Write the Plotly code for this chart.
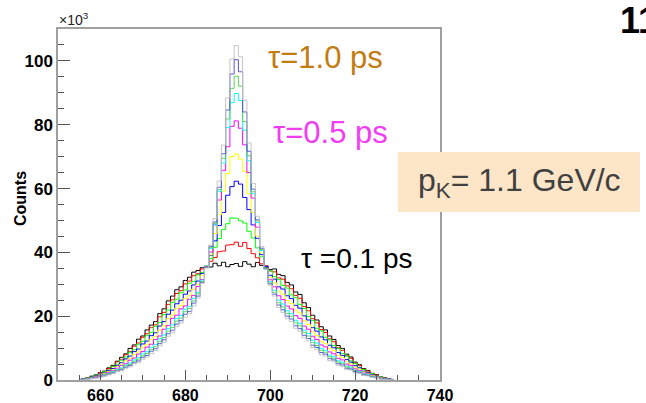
import plotly.graph_objects as go

# bin centres (MeV) and counts per bin in units of 10^3, one list per lifetime
mass = list(range(655, 730))

tau_labels = ["0.1 ps", "0.2 ps", "0.3 ps", "0.4 ps", "0.5 ps",
              "0.6 ps", "0.7 ps", "0.8 ps", "0.9 ps", "1.0 ps"]

counts_t01 = [0.1, 0.4, 0.7, 1.2, 1.6, 2.3, 2.8, 3.8, 4.6, 5.9, 7.1, 8.2, 9.9, 11, 12.8, 13.8, 15.7, 17.2, 18.3,
              20.8, 22.3, 24.8, 26.3, 28.3, 29.2, 31.2, 32.2, 33.8, 34.3, 35.2, 35.6, 35.4, 36.6, 35.8, 36.9, 35.5,
              36.2, 36.5, 35.6, 37.1, 36.3, 35.5, 36.8, 35.9, 35.2, 34.6, 34.8, 33.1, 32.7, 30.6, 29.8, 27.6, 26.8,
              24.2, 22.7, 20.3, 18.8, 16.7, 15.7, 13.8, 12.7, 10.8, 9.9, 8.1, 7.2, 5.6, 4.8, 3.6, 3.0, 2.1, 1.7, 1.0,
              0.7, 0.3, 0.1]
counts_t02 = [0.1, 0.4, 0.6, 1.1, 1.4, 2.2, 2.6, 3.6, 4.3, 5.7, 6.5, 7.9, 8.9, 10.6, 11.6, 13.4, 14.5, 16.4, 17.3,
              19.8, 21.2, 23.7, 25.1, 27.1, 28.0, 30.1, 31.0, 32.7, 33.3, 34.8, 35.3, 37.2, 38.4, 40.2, 40.4, 42.3,
              42.4, 43.2, 41.9, 43.1, 41.2, 39.6, 38.3, 36.4, 35.8, 34.2, 33.9, 32.0, 31.6, 29.5, 28.6, 26.5, 25.6,
              23.0, 21.7, 19.2, 17.9, 15.8, 14.9, 12.9, 12.0, 10.1, 9.3, 7.6, 6.8, 5.3, 4.6, 3.4, 2.8, 2.0, 1.6, 0.9,
              0.6, 0.3, 0.1]
counts_t03 = [0.1, 0.3, 0.6, 1.0, 1.5, 1.8, 2.6, 3.1, 4.2, 5.0, 6.2, 7.2, 8.7, 9.5, 11.2, 12.1, 13.9, 14.9, 16.8,
              18.0, 20.5, 21.9, 24.3, 25.3, 27.3, 28.2, 30.3, 30.9, 33.0, 33.7, 35.7, 38.0, 41.6, 44.3, 47.2, 49.0,
              50.8, 50.7, 49.9, 49.2, 46.6, 44.5, 41.4, 38.6, 35.1, 34.2, 32.4, 31.5, 29.7, 28.8, 26.7, 25.8, 23.7,
              22.4, 19.9, 18.6, 16.2, 15.4, 13.4, 12.6, 10.8, 9.9, 8.3, 7.5, 6.0, 5.2, 4.0, 3.3, 2.4, 2.0, 1.3, 1.0,
              0.5, 0.3, 0.1]
counts_t04 = [0.1, 0.3, 0.5, 0.9, 1.2, 1.8, 2.2, 3.0, 3.6, 4.6, 5.4, 6.6, 7.5, 8.9, 9.7, 11.3, 12.2, 13.9, 14.8,
              16.9, 18.3, 20.6, 21.9, 23.9, 25.0, 26.9, 27.9, 29.8, 31.0, 33.4, 35.6, 39.0, 43.6, 48.4, 52.5, 57.9,
              60.6, 62.3, 61.4, 57.2, 53.4, 48.6, 44.4, 39.3, 35.6, 32.8, 31.6, 29.2, 28.5, 26.4, 25.5, 23.4, 22.5,
              20.1, 18.8, 16.4, 15.3, 13.5, 12.6, 10.9, 10.1, 8.6, 7.7, 6.4, 5.6, 4.5, 3.8, 2.8, 2.3, 1.6, 1.3, 0.8,
              0.5, 0.3, 0.1]
counts_t05 = [0.1, 0.2, 0.5, 0.8, 1.1, 1.6, 2.0, 2.7, 3.2, 4.2, 4.9, 6.0, 6.8, 8.0, 8.8, 10.3, 11.1, 12.7, 13.6,
              15.6, 17.0, 19.2, 20.4, 22.5, 23.4, 25.5, 26.4, 28.5, 29.9, 32.8, 35.4, 39.2, 45.9, 51.8, 59.2, 64.7,
              70.0, 70.8, 69.2, 65.4, 58.4, 52.5, 45.1, 39.8, 35.0, 32.2, 30.5, 27.9, 26.9, 24.9, 24.0, 21.9, 21.0,
              18.6, 17.4, 15.1, 14.0, 12.2, 11.5, 9.9, 9.2, 7.7, 7.0, 5.7, 5.1, 4.0, 3.4, 2.5, 2.1, 1.4, 1.2, 0.7,
              0.5, 0.2, 0.1]
counts_t06 = [0.0, 0.2, 0.4, 0.7, 1.0, 1.4, 1.8, 2.4, 2.9, 3.7, 4.5, 5.1, 6.2, 6.9, 8.1, 8.9, 10.3, 11.2, 12.7,
              13.8, 15.9, 17.1, 19.3, 20.3, 22.3, 23.2, 25.3, 26.5, 29.3, 31.5, 35.4, 40.1, 48.6, 56.4, 65.7, 73.1,
              79.5, 81.2, 78.9, 73.7, 65.0, 57.0, 47.9, 40.8, 34.9, 31.4, 29.2, 26.4, 25.2, 23.2, 22.3, 20.2, 19.3,
              16.9, 15.9, 13.7, 12.7, 11.0, 10.4, 8.8, 8.2, 6.8, 6.3, 5.0, 4.5, 3.5, 3.0, 2.2, 1.9, 1.2, 1.0, 0.6,
              0.4, 0.2, 0.0]
counts_t07 = [0.0, 0.2, 0.3, 0.6, 0.8, 1.2, 1.6, 2.1, 2.6, 3.3, 3.8, 4.7, 5.3, 6.3, 7.0, 8.2, 8.9, 10.2, 11.1,
              12.9, 14.1, 16.1, 17.3, 19.3, 20.2, 22.2, 23.1, 25.6, 27.5, 31.3, 35.3, 41.2, 48.6, 59.1, 68.0, 79.1,
              86.9, 89.8, 87.6, 78.3, 68.7, 58.4, 49.3, 40.6, 34.8, 30.8, 28.1, 25.0, 23.8, 21.7, 20.8, 18.7, 17.8,
              15.6, 14.6, 12.5, 11.6, 9.9, 9.3, 7.8, 7.3, 6.0, 5.6, 4.4, 4.0, 3.1, 2.7, 1.9, 1.7, 1.1, 0.9, 0.5,
              0.4, 0.1, 0.0]
counts_t08 = [0.0, 0.1, 0.3, 0.5, 0.7, 1.1, 1.5, 1.9, 2.4, 3.1, 3.5, 4.4, 4.9, 5.9, 6.5, 7.6, 8.3, 9.6, 10.4,
              12.1, 13.3, 15.3, 16.5, 18.5, 19.4, 21.4, 22.4, 24.8, 27.0, 30.9, 35.3, 41.5, 49.1, 59.7, 69.5, 81.8,
              91.4, 95.2, 92.1, 81.0, 70.3, 59.0, 49.8, 40.9, 34.9, 30.4, 27.5, 24.2, 22.9, 20.9, 20.0, 17.9, 17.0,
              14.9, 13.8, 11.8, 10.8, 9.3, 8.7, 7.3, 6.8, 5.6, 5.1, 4.1, 3.7, 2.9, 2.5, 1.8, 1.5, 1.0, 0.8, 0.4,
              0.3, 0.1, 0.0]
counts_t09 = [0.0, 0.1, 0.2, 0.5, 0.7, 1.0, 1.3, 1.8, 2.2, 2.8, 3.2, 4.0, 4.5, 5.4, 6.0, 7.1, 7.7, 9.0, 9.8,
              11.4, 12.6, 14.5, 15.6, 17.5, 18.6, 20.6, 21.5, 24.1, 26.3, 30.6, 35.2, 41.9, 49.5, 60.4, 70.9, 84.6,
              95.9, 100.4, 96.6, 84.0, 71.7, 59.8, 50.2, 41.3, 34.8, 30.1, 26.9, 23.5, 22.0, 20.0, 19.1, 17.0, 16.1,
              14.0, 13.0, 10.9, 10.2, 8.6, 8.1, 6.7, 6.3, 5.1, 4.7, 3.7, 3.4, 2.6, 2.3, 1.6, 1.4, 0.9, 0.7, 0.4,
              0.3, 0.1, 0.0]
counts_t10 = [0.0, 0.1, 0.2, 0.4, 0.6, 0.9, 1.2, 1.6, 2.0, 2.6, 2.9, 3.7, 4.1, 5.0, 5.5, 6.5, 7.2, 8.3, 9.2,
              10.7, 11.8, 13.7, 14.8, 16.7, 17.8, 19.7, 20.8, 23.2, 25.7, 30.3, 35.1, 42.3, 50.6, 62.4, 73.6, 88.4,
              100.6, 104.8, 101.3, 87.7, 74.3, 61.6, 51.3, 41.8, 34.7, 29.7, 26.3, 22.7, 21.2, 19.2, 18.3, 16.2, 15.3,
              13.2, 12.3, 10.2, 9.5, 7.9, 7.5, 6.1, 5.8, 4.6, 4.3, 3.3, 3.1, 2.3, 2.1, 1.4, 1.3, 0.8, 0.7, 0.3,
              0.2, 0.1, 0.0]

all_counts = [counts_t01, counts_t02, counts_t03, counts_t04, counts_t05,
              counts_t06, counts_t07, counts_t08, counts_t09, counts_t10]
# ROOT line colours 1..9 plus a light grey for the last one
colors = ['#000000', '#ff0000', '#00ff00', '#0000ff', '#ffff00',
          '#ff00ff', '#00ffff', '#59d454', '#5954d8', '#c4c4c4']

# plot frame in pixels
L, T, R, B = 58, 29, 440, 380
W, H = 646, 403


def px(x):
    return (x - L) / (R - L)


def py(y):
    return (B - y) / (B - T)


fig = go.Figure()
for name, ys, col in zip(tau_labels, all_counts, colors):
    fig.add_trace(go.Scatter(x=mass, y=ys, name=name, mode='lines',
                             line=dict(color=col, width=1, shape='hvh'),
                             showlegend=False, hoverinfo='skip'))

xtick_font = dict(family='Liberation Sans, Arial', size=16, weight='bold', color='black')
ytick_font = dict(family='Liberation Sans, Arial', size=17, weight='bold', color='black')

fig.update_layout(
    width=W, height=H,
    margin=dict(l=L, r=W - R, t=T, b=H - B),
    paper_bgcolor='white', plot_bgcolor='white',
    xaxis=dict(range=[650, 740], tick0=660, dtick=20, ticks='inside', ticklen=10,
               tickcolor='#555555', tickfont=xtick_font, showgrid=False, zeroline=False,
               showline=True, mirror=True, linecolor='#a0a0a0', linewidth=1.5, automargin=False,
               minor=dict(dtick=5, ticks='inside', ticklen=5, tickcolor='#555555')),
    yaxis=dict(range=[0, 110], tick0=0, dtick=20, ticks='inside', ticklen=12,
               tickcolor='#555555', tickfont=ytick_font, showgrid=False, zeroline=False,
               showline=True, mirror=True, linecolor='#a0a0a0', linewidth=1.5, automargin=False,
               minor=dict(dtick=5, ticks='inside', ticklen=6, tickcolor='#555555')),
)

txt = 'Liberation Sans, Arial'
fig.add_annotation(x=px(57), y=py(19), xref='paper', yref='paper', xanchor='left', yanchor='middle',
                   text='×10<sup>3</sup>', showarrow=False, font=dict(family=txt, size=14, color='#222222'))
fig.add_annotation(x=px(20), y=py(199), xref='paper', yref='paper', xanchor='center', yanchor='middle',
                   textangle=-90, text='Counts', showarrow=False,
                   font=dict(family=txt, size=16, weight='bold', color='black'))
fig.add_annotation(x=px(266), y=py(58), xref='paper', yref='paper', xanchor='left', yanchor='middle',
                   text='τ=1.0 ps', showarrow=False, font=dict(family=txt, size=31, color='#c27c12'))
fig.add_annotation(x=px(271), y=py(132), xref='paper', yref='paper', xanchor='left', yanchor='middle',
                   text='τ=0.5 ps', showarrow=False, font=dict(family=txt, size=31, color='#f23cf2'))
fig.add_annotation(x=px(299), y=py(258), xref='paper', yref='paper', xanchor='left', yanchor='middle',
                   text='τ =0.1 ps', showarrow=False, font=dict(family=txt, size=28, color='black'))

fig.add_shape(type='rect', xref='paper', yref='paper', x0=px(398), x1=px(640), y0=py(212), y1=py(152),
              fillcolor='#fde6c8', line=dict(width=0), layer='above')
fig.add_annotation(x=px(519), y=py(183), xref='paper', yref='paper', xanchor='center', yanchor='middle',
                   text='p<sub>K</sub>= 1.1 GeV/c', showarrow=False, font=dict(family=txt, size=32, color='#404040'))

# slide number, cut by the right edge as in the original
fig.add_annotation(x=px(618), y=py(20), xref='paper', yref='paper', xanchor='left', yanchor='middle',
                   text='11', showarrow=False, font=dict(family=txt, size=36, weight='bold', color='black'))

# the page's default 8px body margin would shift the whole figure
fig.write_html("out.html", config={'displayModeBar': False},
               post_script="document.body.style.margin='0px';")
